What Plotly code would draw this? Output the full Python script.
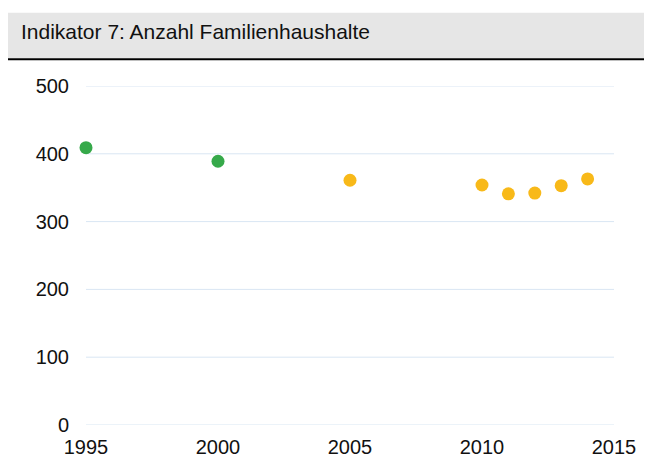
import plotly.graph_objects as go

years_green = [1995, 2000]
values_green = [409, 389]
years_yellow = [2005, 2010, 2011, 2012, 2013, 2014]
values_yellow = [361, 354, 341, 342, 353, 363]
x_ticks = [1995, 2000, 2005, 2010, 2015]
y_ticks = [0, 100, 200, 300, 400, 500]
title_text = "Indikator 7: Anzahl Familienhaushalte"

W, H = 652, 462
ml, mr, mt, mb = 78, 46, 78, 42
pw, ph = W - ml - mr, H - mt - mb

def px_x(p):
    return (p - ml) / pw

def px_y(p):
    return (H - mb - p) / ph

fig = go.Figure()
fig.add_trace(go.Scatter(x=years_green, y=values_green, mode="markers",
                         marker=dict(color="#36a94a", size=13, line=dict(width=0)),
                         showlegend=False, cliponaxis=False))
fig.add_trace(go.Scatter(x=years_yellow, y=values_yellow, mode="markers",
                         marker=dict(color="#f8b919", size=13, line=dict(width=0)),
                         showlegend=False, cliponaxis=False))

shapes = [
    dict(type="rect", xref="paper", yref="paper",
         x0=px_x(0), x1=px_x(W), y0=px_y(50), y1=px_y(4),
         fillcolor="#e6e6e6", line=dict(width=0), layer="below"),
    dict(type="line", xref="paper", yref="paper",
         x0=px_x(0), x1=px_x(W), y0=px_y(51), y1=px_y(51),
         line=dict(color="black", width=2)),
]
for v in y_ticks:
    shapes.append(dict(type="line", xref="paper", yref="y", x0=0, x1=1, y0=v, y1=v,
                       line=dict(color="#d9e6f3", width=1), layer="below"))

fig.update_layout(
    width=W, height=H,
    margin=dict(l=ml, r=mr, t=mt, b=mb, pad=0),
    paper_bgcolor="white", plot_bgcolor="white",
    font=dict(family="Liberation Sans, Arial, sans-serif", size=20, color="#111"),
    xaxis=dict(range=[1995, 2015], tickvals=x_ticks, showgrid=False, zeroline=False,
               showline=False, ticks="outside", ticklen=4, tickcolor="rgba(0,0,0,0)",
               tickfont=dict(size=20)),
    yaxis=dict(range=[0, 500], tickvals=y_ticks, showgrid=False, zeroline=False,
               showline=False, ticks="outside", ticklen=12,
               tickcolor="rgba(0,0,0,0)", tickfont=dict(size=20)),
    shapes=shapes,
    annotations=[
        dict(text=title_text, xref="paper", yref="paper", x=px_x(11), y=px_y(23),
             xanchor="left", yanchor="middle", showarrow=False,
             font=dict(size=21, color="#111")),
    ],
)

fig.write_html("out.html")
